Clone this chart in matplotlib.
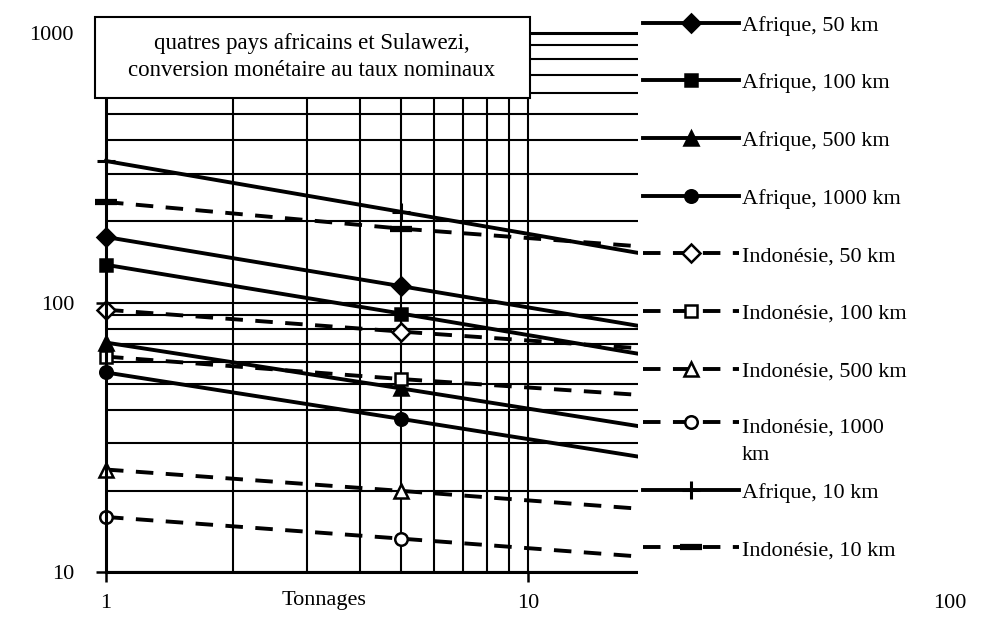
import matplotlib.pyplot as plt
from matplotlib.patches import Rectangle
from matplotlib.legend_handler import HandlerLine2D
from matplotlib.ticker import FuncFormatter, NullFormatter

plt.rcParams['font.family'] = ['Liberation Serif', 'DejaVu Serif']
plt.rcParams['font.size'] = 16

OUT = 'out.png'

# tonnage points (t) and transport cost per series
tonnages = [1, 5, 20, 50, 100]

afrique_10     = [335, 217, 149, 117, 97]
afrique_50     = [175, 115, 80, 63, 53]
afrique_100    = [138, 91, 63, 50, 42]
afrique_500    = [71, 48, 34, 27.2, 23]
afrique_1000   = [55, 37, 26.2, 20.9, 17.6]
indonesie_10   = [236, 188, 160, 142, 130]
indonesie_50   = [94, 78, 67, 60, 55]
indonesie_100  = [63, 52, 45, 40, 37]
indonesie_500  = [24, 20, 17, 15.3, 14.1]
indonesie_1000 = [16, 13.3, 11.3, 10.2, 9.4]

# (values, label, marker, filled, dashed) in legend order
series = [
	(afrique_50,     'Afrique, 50 km',      'D', True,  False),
	(afrique_100,    'Afrique, 100 km',     's', True,  False),
	(afrique_500,    'Afrique, 500 km',     '^', True,  False),
	(afrique_1000,   'Afrique, 1000 km',    'o', True,  False),
	(indonesie_50,   'Indonésie, 50 km',    'D', False, True),
	(indonesie_100,  'Indonésie, 100 km',   's', False, True),
	(indonesie_500,  'Indonésie, 500 km',   '^', False, True),
	(indonesie_1000, 'Indonésie, 1000\nkm', 'o', False, True),
	(afrique_10,     'Afrique, 10 km',      '+', True,  False),
	(indonesie_10,   'Indonésie, 10 km',    '_', True,  True),
]

WRAP_SPACING = 1.6


class FirstLineHandler(HandlerLine2D):
	# puts the legend line level with the first line of a two-line label
	def create_artists(self, legend, orig_handle, xdescent, ydescent,
			   width, height, fontsize, trans):
		shift = 0.42 * WRAP_SPACING * fontsize + 0.18 * fontsize
		return super().create_artists(legend, orig_handle, xdescent,
					      ydescent - 2 * shift, width, height,
					      fontsize, trans)


W, H = 990, 618

fig = plt.figure(figsize=(W / 100, H / 100), dpi=100)
ax = fig.add_axes([106 / W, 1 - 572 / H, (950 - 106) / W, (572 - 33) / H])

ax.set_xscale('log')
ax.set_yscale('log')
ax.set_xlim(1, 100)
ax.set_ylim(10, 1000)

ax.grid(True, which='both', color='black', lw=1.5)
ax.set_axisbelow(True)

fmt = FuncFormatter(lambda v, p: f'{v:g}')
ax.xaxis.set_major_formatter(fmt)
ax.yaxis.set_major_formatter(fmt)
ax.xaxis.set_minor_formatter(NullFormatter())
ax.yaxis.set_minor_formatter(NullFormatter())
ax.tick_params(which='major', direction='out', length=7, width=1.8, labelsize=16)
ax.tick_params(axis='x', pad=9)
ax.tick_params(axis='y', pad=16)
ax.tick_params(which='minor', length=0)
for s in ax.spines.values():
	s.set_linewidth(2.2)

handles = []
handler_map = {}
for values, label, marker, filled, dashed in series:
	kw = dict(color='black', lw=2.8, marker=marker, ms=9, mec='black',
		  mfc='black' if filled else 'white', mew=1.8, label=label,
		  clip_on=False)
	if marker == '+':
		kw.update(ms=13, mew=2.2)
	if marker == '_':
		kw.update(ms=16, mew=4.5)
	if marker == '^':
		kw.update(ms=10)
	if dashed:
		kw.update(dashes=(4.5, 3.2))
	line, = ax.plot(tonnages, values, **kw)
	handles.append(line)
	if '\n' in label:
		handler_map[line] = FirstLineHandler()

ax.set_xlabel('Tonnages', fontsize=16)
ax.xaxis.set_label_coords(0.258, -0.036)

# white area on the right that holds the legend
cover = Rectangle((638 / W, 1 - 587 / H), 1 - 638 / W, 587 / H,
		  transform=fig.transFigure, facecolor='white', edgecolor='none',
		  clip_on=False, zorder=5)
ax.add_artist(cover)

leg_opts = dict(loc='upper left', bbox_transform=fig.transFigure,
		frameon=False, handlelength=4.3, handletextpad=0.15,
		labelspacing=1.67, borderpad=0, borderaxespad=0, fontsize=16)

# the last two entries sit right under the two-line label
leg_top = ax.legend(handles=handles[:8], handler_map=handler_map,
		    bbox_to_anchor=(643 / W, 1 - 15 / H), **leg_opts)
leg_top.set_zorder(6)
for t in leg_top.get_texts():
	if '\n' in t.get_text():
		t.set_linespacing(WRAP_SPACING)
ax.add_artist(leg_top)
leg_bottom = ax.legend(handles=handles[8:],
		       bbox_to_anchor=(643 / W, 1 - 482 / H), **leg_opts)
leg_bottom.set_zorder(6)

# caption box in the upper left corner
box = Rectangle((95 / W, 1 - 98 / H), 435 / W, 81 / H,
		transform=fig.transFigure, facecolor='white', edgecolor='black',
		lw=1.5, clip_on=False, zorder=7)
ax.add_artist(box)
ax.text(312 / W, 1 - 57 / H,
	'quatres pays africains et Sulawezi,\nconversion monétaire au taux nominaux',
	transform=fig.transFigure, ha='center', va='center', fontsize=16.5,
	linespacing=1.4, zorder=8)

plt.savefig(OUT, dpi=100)
